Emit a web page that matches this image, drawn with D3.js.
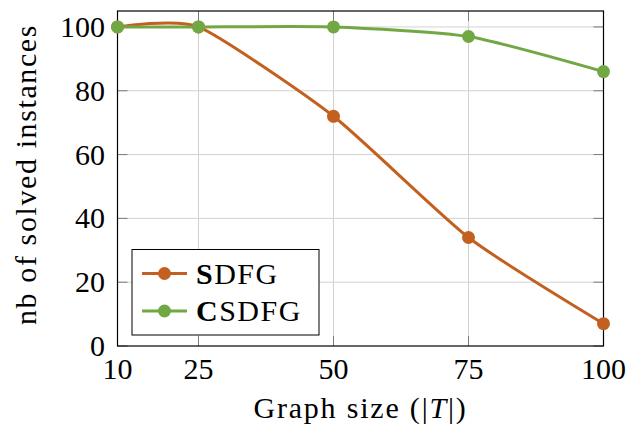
<!DOCTYPE html>
<meta charset="utf-8">
<style>
body { margin: 0; background: #fff; }
text { font-family: "Liberation Serif", "Times New Roman", serif; fill: #000; }
.grid line { stroke: #d2d2d2; stroke-width: 1; }
.tick-mark { stroke: #7a7a7a; stroke-width: 1; }
.frame { fill: none; stroke: #000; stroke-width: 1.2; }
</style>
<svg width="627" height="428"></svg>
<script src="https://d3js.org/d3.v7.min.js"></script>
<script>

var sizes = [10, 25, 50, 75, 100];
var sdfg = [100, 100, 72, 34, 7];
var csdfg = [100, 100, 100, 97, 86];
var xTicks = [10, 25, 50, 75, 100];
var yTicks = [0, 20, 40, 60, 80, 100];
var seriesNames = ["SDFG", "CSDFG"];
var colors = ["#c4601f", "#72a843"];

var svg = d3.select("svg"),
    plotL = 117.5, plotR = 603.5, plotT = 11, plotB = 346;

var x = d3.scaleLinear().domain([10, 100]).range([plotL, plotR]);
var y = d3.scaleLinear().domain([0, 105]).range([plotB, plotT]);

// grid
var grid = svg.append("g").attr("class", "grid");
grid.selectAll(".gx").data(xTicks.slice(1, -1)).enter().append("line")
    .attr("x1", d => x(d)).attr("x2", d => x(d))
    .attr("y1", plotT).attr("y2", plotB);
grid.selectAll(".gy").data(yTicks.slice(1)).enter().append("line")
    .attr("y1", d => y(d)).attr("y2", d => y(d))
    .attr("x1", plotL).attr("x2", plotR);

// inner tick marks on all four sides
var tl = 10;
var tm = svg.append("g");
xTicks.forEach(function(d) {
  tm.append("line").attr("class", "tick-mark")
      .attr("x1", x(d)).attr("x2", x(d)).attr("y1", plotB).attr("y2", plotB - tl);
  tm.append("line").attr("class", "tick-mark")
      .attr("x1", x(d)).attr("x2", x(d)).attr("y1", plotT).attr("y2", plotT + tl);
});
yTicks.forEach(function(d) {
  tm.append("line").attr("class", "tick-mark")
      .attr("y1", y(d)).attr("y2", y(d)).attr("x1", plotL).attr("x2", plotL + tl);
  tm.append("line").attr("class", "tick-mark")
      .attr("y1", y(d)).attr("y2", y(d)).attr("x1", plotR).attr("x2", plotR - tl);
});

svg.append("rect").attr("class", "frame")
    .attr("x", plotL).attr("y", plotT)
    .attr("width", plotR - plotL).attr("height", plotB - plotT);

// tick labels
svg.selectAll(".xl").data(xTicks).enter().append("text")
    .attr("x", d => x(d)).attr("y", 379)
    .attr("text-anchor", "middle")
    .style("font-size", "30px")
    .text(d => d);
svg.selectAll(".yl").data(yTicks).enter().append("text")
    .attr("x", 105).attr("y", d => y(d) + 10)
    .attr("text-anchor", "end")
    .style("font-size", "30px")
    .text(d => d);

// axis labels
var xl = svg.append("text")
    .attr("x", (plotL + plotR) / 2).attr("y", 418)
    .attr("text-anchor", "middle")
    .style("font-size", "30px")
    .style("letter-spacing", "1.8px");
xl.append("tspan").text("Graph size (|");
xl.append("tspan").style("font-style", "italic").text("T");
xl.append("tspan").text("|)");

svg.append("text")
    .attr("transform", "translate(36," + ((plotT + plotB) / 2 - 4) + ") rotate(-90)")
    .attr("text-anchor", "middle")
    .style("font-size", "30px")
    .style("letter-spacing", "1.6px")
    .text("nb of solved instances");

// series
var line = d3.line()
    .x(d => x(d[0])).y(d => y(d[1]))
    .curve(d3.curveCardinal.tension(0.4));

[sdfg, csdfg].forEach(function(vals, i) {
  var pts = sizes.map((s, j) => [s, vals[j]]);
  svg.append("path")
      .attr("d", line(pts))
      .attr("fill", "none")
      .attr("stroke", colors[i])
      .attr("stroke-width", 3);
  svg.selectAll(".m" + i).data(pts).enter().append("circle")
      .attr("cx", d => x(d[0])).attr("cy", d => y(d[1]))
      .attr("r", 6.5)
      .attr("fill", colors[i]);
});

// legend
var lg = svg.append("g");
lg.append("rect")
    .attr("x", 132).attr("y", 249.5).attr("width", 187).attr("height", 85.5)
    .attr("fill", "#fff").attr("stroke", "#000").attr("stroke-width", 1);
seriesNames.forEach(function(name, i) {
  var ly = 273.5 + i * 37.5;
  lg.append("line")
      .attr("x1", 142).attr("x2", 187).attr("y1", ly).attr("y2", ly)
      .attr("stroke", colors[i]).attr("stroke-width", 3);
  lg.append("circle").attr("cx", 164.5).attr("cy", ly).attr("r", 6.5)
      .attr("fill", colors[i]);
  var t = lg.append("text")
      .attr("x", 196).attr("y", ly + 10)
      .style("font-size", "30px")
      .style("letter-spacing", "1.5px");
  t.append("tspan").style("font-weight", "bold").text(name[0]);
  t.append("tspan").text(name.slice(1));
});

</script>
